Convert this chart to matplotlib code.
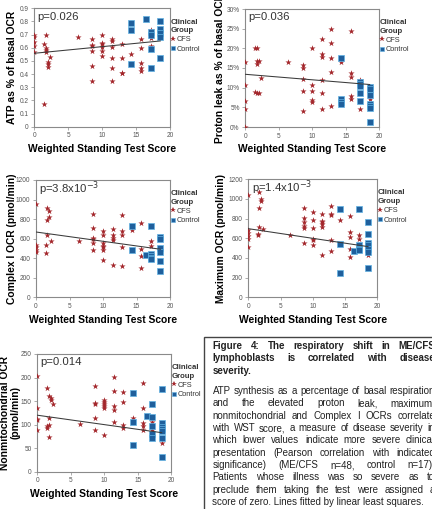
import numpy as np
import matplotlib
matplotlib.use("Agg")
import matplotlib.pyplot as plt
from matplotlib.lines import Line2D
from matplotlib.patches import Rectangle

plt.rcParams['font.family'] = ['Liberation Sans', 'DejaVu Sans']

W, H = 432, 509

# --- data (WST score vs. measurement) ---
# panel 1: ATP as % of basal OCR
atp_cfs_x = [0, 0, 0, 0, 0, 1.43, 1.43, 1.71, 1.71, 1.71, 1.71, 2.0, 2.0, 2.0, 2.29, 6.43,
             8.57, 8.57, 8.57, 8.57, 8.57, 8.57, 10, 10, 10, 10, 10, 10,
             11.43, 11.43, 11.43, 11.43, 11.43, 11.43, 12.86, 12.86, 12.86, 12.86, 14.29,
             15.71, 15.71, 15.71, 15.71, 15.71, 17.14, 17.14, 17.14, 17.14, 18.57]
atp_cfs_y = [0.70, 0.68, 0.645, 0.61, 0.57, 0.63, 0.175, 0.70, 0.60, 0.585, 0.565, 0.49, 0.475, 0.455, 0.53, 0.685,
             0.67, 0.62, 0.61, 0.575, 0.465, 0.35, 0.70, 0.64, 0.625, 0.605, 0.575, 0.54,
             0.665, 0.65, 0.605, 0.525, 0.45, 0.35, 0.63, 0.525, 0.41, 0.405, 0.55,
             0.67, 0.60, 0.485, 0.445, 0.42, 0.735, 0.675, 0.615, 0.595, 0.795]
atp_ctl_x = [14.29, 14.29, 14.29, 16.43, 17.14, 17.14, 17.14, 17.14, 18.57, 18.57, 18.57, 18.57, 18.57]
atp_ctl_y = [0.79, 0.735, 0.48, 0.82, 0.72, 0.70, 0.59, 0.445, 0.805, 0.74, 0.71, 0.685, 0.52]

# panel 2: proton leak as % of basal OCR
leak_cfs_x = [0, 0, 0, 0, 0, 1.43, 1.43, 1.71, 1.71, 1.71, 1.71, 2.0, 2.0, 2.29, 6.43,
              8.57, 8.57, 8.57, 8.57, 8.57, 10, 10, 10, 10, 10,
              11.43, 11.43, 11.43, 11.43, 11.43, 11.43, 12.86, 12.86, 12.86, 12.86, 12.86, 14.29,
              15.71, 15.71, 15.71, 15.71, 15.71, 17.14, 17.14, 18.57]
leak_cfs_y = [16.4, 10.7, 6.6, 4.7, 0.0, 20.2, 9.0, 20.2, 16.8, 15.9, 8.7, 16.8, 8.6, 12.5, 16.4,
              15.7, 14.9, 12.2, 9.2, 4.0, 20.0, 10.8, 9.2, 6.9, 6.4,
              22.5, 18.6, 17.9, 11.9, 8.6, 4.5, 24.9, 21.4, 17.6, 14.0, 5.3, 16.4,
              24.4, 13.7, 12.7, 8.0, 7.2, 11.9, 4.6, 7.2]
leak_ctl_x = [14.29, 14.29, 14.29, 14.29, 17.14, 17.14, 17.14, 17.14, 17.14,
              18.57, 18.57, 18.57, 18.57, 18.57, 18.57, 18.57]
leak_ctl_y = [17.6, 7.0, 6.4, 5.8, 11.4, 10.9, 10.4, 8.6, 6.5, 10.1, 9.6, 8.2, 5.8, 5.3, 4.9, 1.2]

# panel 3: Complex I OCR
cx1_cfs_x = [0, 0, 0, 0, 0, 1.43, 1.43, 1.71, 1.71, 1.71, 2.0, 2.0, 2.29, 6.43,
             8.57, 8.57, 8.57, 8.57, 8.57, 8.57, 10, 10, 10, 10, 10, 10, 10,
             11.43, 11.43, 11.43, 11.43, 11.43, 12.86, 12.86, 12.86, 12.86, 12.86, 14.29,
             15.71, 15.71, 15.71, 15.71, 17.14, 17.14]
cx1_cfs_y = [955, 532, 511, 484, 460, 539, 457, 914, 791, 637, 886, 825, 573, 573,
             856, 712, 610, 597, 559, 484, 678, 634, 559, 525, 511, 484, 382,
             702, 641, 603, 586, 334, 839, 682, 634, 511, 324, 689,
             764, 491, 423, 303, 580, 525]
cx1_ctl_x = [14.29, 14.29, 16.43, 17.14, 17.14, 17.14, 17.14, 17.14,
             18.57, 18.57, 18.57, 18.57, 18.57, 18.57]
cx1_ctl_y = [730, 481, 430, 730, 443, 423, 402, 389, 620, 597, 508, 460, 372, 273]

# panel 4: maximum OCR
max_cfs_x = [0, 0, 0, 0, 0, 0, 1.43, 1.43, 1.71, 1.71, 1.71, 2.0, 2.0, 2.29, 6.43,
             8.57, 8.57, 8.57, 8.57, 8.57, 8.57, 10, 10, 10, 10, 10, 10,
             11.43, 11.43, 11.43, 11.43, 11.43, 11.43, 12.86, 12.86, 12.86, 12.86, 12.86, 14.29,
             15.71, 15.71, 15.71, 15.71, 15.71, 17.14, 17.14, 17.14, 18.57]
max_cfs_y = [1044, 681, 658, 624, 597, 512, 644, 631, 1075, 912, 719, 1003, 980, 692, 631,
             908, 807, 763, 722, 705, 556, 864, 786, 705, 597, 583, 536,
             851, 776, 763, 742, 715, 434, 929, 844, 834, 580, 475, 786,
             827, 661, 614, 488, 407, 637, 590, 515, 427]
max_ctl_x = [14.29, 14.29, 14.29, 16.43, 17.14, 17.14, 17.14, 17.14,
             18.57, 18.57, 18.57, 18.57, 18.57, 18.57, 18.57]
max_ctl_y = [898, 546, 244, 475, 898, 529, 495, 478, 770, 644, 556, 532, 488, 464, 302]

# panel 5: nonmitochondrial OCR
nm_cfs_x = [0, 0, 0, 0, 0, 1.43, 1.43, 1.43, 1.71, 1.71, 1.71, 1.71, 2.0, 2.0, 2.29, 6.43,
            8.57, 8.57, 8.57, 8.57, 8.57, 10, 10, 10, 10, 10, 10,
            11.43, 11.43, 11.43, 11.43, 11.43, 12.86, 12.86, 12.86, 12.86, 14.29,
            15.71, 15.71, 15.71, 15.71, 15.71, 17.14, 17.14, 17.14, 17.14, 18.57]
nm_cfs_y = [204, 134.5, 112.6, 109.7, 88.5, 177, 97, 93, 161, 115, 99, 74, 156, 152, 144, 101,
            183, 146, 144, 115, 88.5, 152, 149, 144, 140, 134.5, 77,
            202, 172, 140, 130, 106, 168.5, 148, 99, 92, 115,
            188, 134.5, 104, 97, 88.5, 115, 105, 88.5, 85, 60]
nm_ctl_x = [14.29, 14.29, 14.29, 16.43, 17.14, 17.14, 17.14, 17.14, 17.14,
            18.57, 18.57, 18.57, 18.57, 18.57, 18.57, 18.57]
nm_ctl_y = [168, 105, 56, 118, 144, 117, 98, 81, 71, 175.6, 103, 94, 90, 86, 71.5, 32]

# least-squares lines as drawn in the figure (intercept, slope), over WST 0..18.57
fit_atp = (0.558, 0.00505)
fit_leak = (13.4, -0.14)
fit_cx1 = (668, -9.5)
fit_max = (698, -9.84)
fit_nm = (120, -2.0)
fit_range = [0, 18.57]

x_ticks = [0, 5, 10, 15, 20]

panels = [
    dict(rect=(34.3, 8.3, 170.0, 126.7), cx=atp_cfs_x, cy=atp_cfs_y, kx=atp_ctl_x, ky=atp_ctl_y,
         fit=fit_atp, ylim=(0, 0.9), yticks=[0, 0.1, 0.2, 0.3, 0.4, 0.5, 0.6, 0.7, 0.8, 0.9],
         ylabels=['0', '0.1', '0.2', '0.3', '0.4', '0.5', '0.6', '0.7', '0.8', '0.9'],
         ylabel='ATP as % of basal OCR', ylab_x=-0.165, p='p=0.026'),
    dict(rect=(245.3, 9.0, 379.3, 127.0), cx=leak_cfs_x, cy=leak_cfs_y, kx=leak_ctl_x, ky=leak_ctl_y,
         fit=fit_leak, ylim=(0, 30), yticks=[0, 5, 10, 15, 20, 25, 30],
         ylabels=['0%', '5%', '10%', '15%', '20%', '25%', '30%'],
         ylabel='Proton leak as % of basal OCR', ylab_x=-0.19, p='p=0.036'),
    dict(rect=(36.0, 180.0, 170.0, 297.3), cx=cx1_cfs_x, cy=cx1_cfs_y, kx=cx1_ctl_x, ky=cx1_ctl_y,
         fit=fit_cx1, ylim=(0, 1200), yticks=[0, 200, 400, 600, 800, 1000, 1200],
         ylabels=['0', '200', '400', '600', '800', '1000', '1200'],
         ylabel='Complex I OCR (pmol/min)', ylab_x=-0.18, p='p=3.8x10$^{-3}$'),
    dict(rect=(248.3, 179.3, 377.3, 297.3), cx=max_cfs_x, cy=max_cfs_y, kx=max_ctl_x, ky=max_ctl_y,
         fit=fit_max, ylim=(0, 1200), yticks=[0, 200, 400, 600, 800, 1000, 1200],
         ylabels=['0', '200', '400', '600', '800', '1000', '1200'],
         ylabel='Maximum OCR (pmol/min)', ylab_x=-0.21, p='p=1.4x10$^{-3}$'),
    dict(rect=(37.3, 354.0, 171.3, 471.7), cx=nm_cfs_x, cy=nm_cfs_y, kx=nm_ctl_x, ky=nm_ctl_y,
         fit=fit_nm, ylim=(0, 250), yticks=[0, 50, 100, 150, 200, 250],
         ylabels=['0', '50', '100', '150', '200', '250'],
         ylabel='Nonmitochondrial OCR\n(pmol/min)', ylab_x=-0.2, p='p=0.014'),
]

cfs_col = '#a3262b'
ctl_col = '#1f5f9c'
ctl_edge = '#62b3e3'
grey = '#8a8a8a'

fig = plt.figure(figsize=(W / 100, H / 100), dpi=100)

for pn in panels:
    l, t, r, b = pn['rect']
    ax = fig.add_axes([l / W, 1 - b / H, (r - l) / W, (b - t) / H])
    ax.scatter(pn['cx'], pn['cy'], marker='*', s=22, color=cfs_col, linewidths=0, zorder=3)
    ax.scatter(pn['kx'], pn['ky'], marker='s', s=13, color=ctl_col, edgecolors=ctl_edge,
               linewidths=0.5, zorder=4)
    c, k = pn['fit']
    xs = np.array(fit_range)
    ax.plot(xs, c + k * xs, color='#3a3a3a', lw=0.75, zorder=5)

    ax.set_xlim(0, 20)
    ax.set_ylim(*pn['ylim'])
    ax.set_xticks(x_ticks)
    ax.set_yticks(pn['yticks'])
    ax.set_yticklabels(pn['ylabels'])
    ax.tick_params(length=2, width=0.5, color=grey, labelsize=4.7, labelcolor='#555555', pad=2)
    for s in ax.spines.values():
        s.set_color(grey)
        s.set_linewidth(0.8)

    ax.set_xlabel('Weighted Standing Test Score', fontsize=7.4, fontweight='bold', va='center')
    ax.xaxis.set_label_coords(0.5, -0.19)
    ax.set_ylabel(pn['ylabel'], fontsize=7.4, fontweight='bold', va='center', linespacing=1.0)
    ax.yaxis.set_label_coords(pn['ylab_x'], 0.5)

    ax.text(0.025, 0.93, pn['p'], transform=ax.transAxes, fontsize=8.2, color='#333333',
            va='center', ha='left')

    handles = [Line2D([], [], marker='*', ls='', color=cfs_col, markersize=4, mew=0),
               Line2D([], [], marker='s', ls='', color=ctl_col, markeredgecolor=ctl_edge,
                      markersize=3.2, mew=0.4)]
    leg = ax.legend(handles, ['CFS', 'Control'], title='Clinical\nGroup', loc='upper left',
                    bbox_to_anchor=(1.0, 0.92), frameon=False, fontsize=5.3,
                    title_fontproperties={'weight': 'bold', 'size': 5.6},
                    alignment='left', borderaxespad=0, borderpad=0.1,
                    handlelength=0.5, handletextpad=0.3, labelspacing=0.3)
    leg.get_title().set_color('#333333')
    leg.get_title().set_linespacing(1.3)
    for tx in leg.get_texts():
        tx.set_color('#333333')

# caption box
fig.add_artist(Rectangle((204 / W, -0.05), 0.6, 1 - 337 / H + 0.05, transform=fig.transFigure,
                         fill=False, edgecolor='#444444', lw=1.0))

head_lines = ['Figure 4: The respiratory shift in ME/CFS',
              'lymphoblasts is correlated with disease',
              'severity.']
body_lines = ['ATP synthesis as a percentage of basal respiration',
              'and the elevated proton leak, maximum,',
              'nonmitochondrial and Complex I OCRs correlate',
              'with WST score, a measure of disease severity in',
              'which lower values indicate more severe clinical',
              'presentation (Pearson correlation with indicated',
              'significance) (ME/CFS n=48, control n=17).',
              'Patients whose illness was so severe as to',
              'preclude them taking the test were assigned a',
              'score of zero. Lines fitted by linear least squares.']

renderer = fig.canvas.get_renderer()
x0, x1 = 212.5, 435.0
cap_size = 7.0


def put_line(line, y, weight, justify):
    if not justify:
        fig.text(x0 / W, 1 - y / H, line, fontsize=cap_size, fontweight=weight, color='#222222',
                 va='center', ha='left')
        return
    words = line.split(' ')
    texts = [fig.text(x0 / W, 1 - y / H, w, fontsize=cap_size, fontweight=weight, color='#222222',
                      va='center', ha='left') for w in words]
    widths = [t.get_window_extent(renderer).width for t in texts]
    gap = (x1 - x0 - sum(widths)) / (len(words) - 1)
    x = x0
    for t, w in zip(texts, widths):
        t.set_x(x / W)
        x += w + gap


for i, line in enumerate(head_lines):
    put_line(line, 345.7 + i * 12.6, 'bold', i < len(head_lines) - 1)
for i, line in enumerate(body_lines):
    put_line(line, 391.0 + i * 12.35, 'normal', i < len(body_lines) - 1)

fig.savefig('out.png', dpi=100)
